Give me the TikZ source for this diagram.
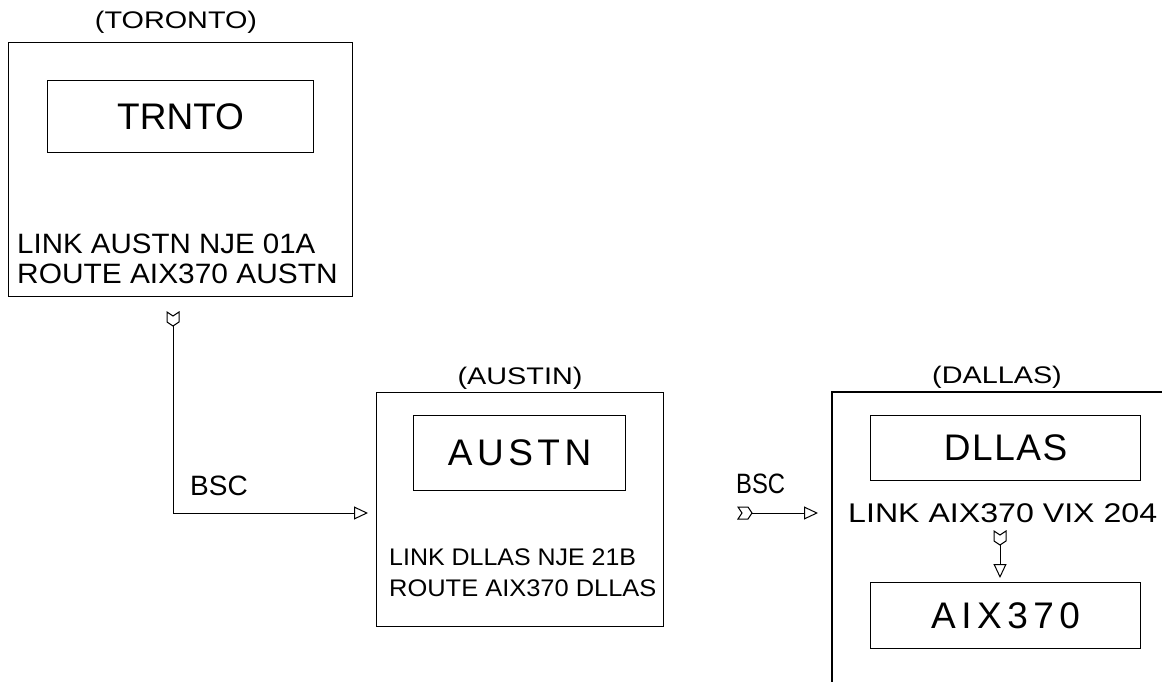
\documentclass[tikz,border=0pt]{standalone}
\usepackage{graphicx}
\usepackage{fontspec}
\setmainfont{Liberation Sans}
\usetikzlibrary{arrows.meta}
\tikzset{
  frame/.style={draw, line width=1.2pt, anchor=north west, inner sep=0pt},
  big/.style={font=\fontsize{37}{37}\selectfont},
  mid/.style={font=\fontsize{28}{30}\selectfont, anchor=west, inner sep=0pt},
  sml/.style={font=\fontsize{24}{26}\selectfont, anchor=west, inner sep=0pt},
  ttl/.style={font=\fontsize{24}{24}\selectfont},
  conn/.style={line width=1pt, -{Triangle[open, length=14pt, width=13pt, line width=1pt]}},
  tail/.pic={\draw[line width=1pt, line join=miter] (0,0) -- (-4,-6) -- (-14,-6) -- (-10,0) -- (-14,6) -- (-4,6) -- cycle;}
}
\newcommand{\sx}[2]{\scalebox{#1}[1]{#2}}
\begin{document}
\begin{tikzpicture}[x=1pt,y=-1pt]
\useasboundingbox (0,0) rectangle (1162,682);
\fill[white] (0,0) rectangle (1162,682);
% Toronto
\node[ttl] (lblT) at (176,22) {\sx{1.2}{(TORONTO)}};
\node[frame, minimum width=344pt, minimum height=254pt] (tor) at (8,42) {};
\node[frame, minimum width=266pt, minimum height=72pt] (trnto) at (47,80) {};
\node[big] at (trnto.center) {TRNTO};
\node[mid] (tl1) at (17,244) {\sx{1.053}{LINK AUSTN NJE 01A}};
\node[mid] (tl2) at (17,274) {\sx{1.067}{ROUTE AIX370 AUSTN}};
% Austin
\node[ttl] (lblA) at (520,378) {\sx{1.2}{(AUSTIN)}};
\node[frame, minimum width=287pt, minimum height=234pt] (aus) at (376,392) {};
\node[frame, minimum width=212pt, minimum height=75pt] (austn) at (413,415) {};
\node[big] at (austn.center) {A\kern4.5pt U\kern4.5pt S\kern4.5pt T\kern4.5pt N};
\node[sml] (al1) at (389,557) {\sx{1.04}{LINK DLLAS NJE 21B}};
\node[sml] (al2) at (389,588) {\sx{1.06}{ROUTE AIX370 DLLAS}};
% Dallas
\node[ttl] (lblD) at (997,377) {\sx{1.2}{(DALLAS)}};
\coordinate (dtr) at (1162,392);
\coordinate (dtl) at (832,392);
\coordinate (dbl) at (832,682);
\draw[line width=1.2pt] (dtr) -- (dtl) -- (dbl);
\node[frame, minimum width=270pt, minimum height=65pt] (dllas) at (870,415) {};
\node[big] at (dllas.center) {D\kern1.5pt L\kern1.5pt L\kern1.5pt A\kern1.5pt S};
\node[font=\fontsize{27}{29}\selectfont, anchor=west, inner sep=0pt] (dl1) at (848,513) {\sx{1.19}{LINK AIX370 VIX 204}};
\node[frame, minimum width=270pt, minimum height=66pt] (aix) at (870,582) {};
\node[big] at (aix.center) {A\kern5.5pt I\kern5.5pt X\kern5.5pt 3\kern5.5pt 7\kern5.5pt 0};
% Connectors
\coordinate (t1) at (173,326);
\coordinate (h1) at (368,513);
\pic[rotate=-90] at (t1) {tail};
\draw[conn] (t1) |- (h1);
\node[mid, anchor=south west] (bsc1) at (190,496) {BSC};
\coordinate (t2) at (752,513);
\coordinate (h2) at (818,513);
\pic at (t2) {tail};
\draw[conn] (t2) -- (h2);
\node[mid, anchor=south west] (bsc2) at (736,494) {\sx{0.85}{BSC}};
\coordinate (t3) at (1000,545);
\coordinate (h3) at (1000,578);
\pic[rotate=-90] at (t3) {tail};
\draw[conn] (t3) -- (h3);
\end{tikzpicture}
\end{document}
